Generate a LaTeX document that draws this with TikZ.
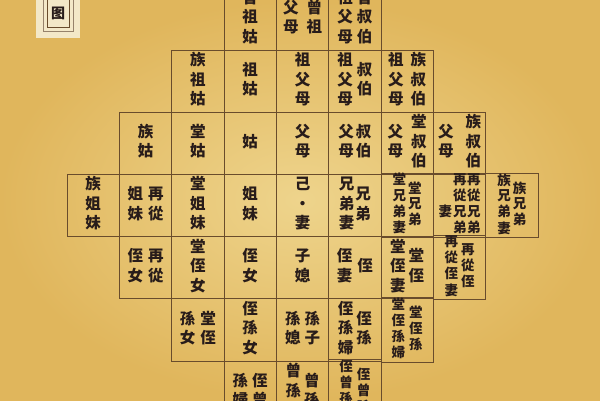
\documentclass[tikz,border=0pt]{standalone}
\usepackage{fontspec}
\usepackage{xcolor}
\newfontfamily\cjk{Noto Sans CJK TC}

\definecolor{paperin}{RGB}{238,212,140}
\definecolor{paperout}{RGB}{224,182,92}
\definecolor{paperpale}{RGB}{243,232,200}
\definecolor{gridline}{RGB}{105,76,44}
\definecolor{ink}{RGB}{40,28,26}

% one vertical line of characters, and two of them (right one read first)
\newcommand{\vcol}[1]{\begin{tabular}[c]{@{}c@{}}#1\end{tabular}}
\newcommand{\vpair}[3][3pt]{\vcol{#3}\hspace{#1}\vcol{#2}}

\tikzset{
  kincell/.style={draw=gridline, line width=0.7pt, minimum width=52.33, minimum height=62.2,
    inner sep=0pt, text=ink, font=\cjk\bfseries\fontsize{15.5}{19.5}\selectfont},
  dense/.style={font=\cjk\bfseries\fontsize{13.5}{15.5}\selectfont},
}

\begin{document}
\begin{tikzpicture}[x=1pt,y=1pt,yscale=-1,xscale=1]
\useasboundingbox (0,0) rectangle (600,400);
\shade [inner color=paperin, outer color=paperout] (0,0) rectangle (600,400);
\clip (0,0) rectangle (600,400);

%Title box
\fill [paperpale] (36,-2) rectangle (80,38);
\draw [gridline!70, line width=0.6pt] (43,-5) rectangle (73,31);
\draw [gridline, line width=0.8pt] (47,-5) rectangle (69,27);
\node [text=ink, font=\cjk\bfseries\fontsize{14}{16}\selectfont] (title) at (58,13) {图};

% Row 0
\node [kincell] (r0c3) at (250.2,18.9) {\vcol{曾\\祖\\姑}};
\node [kincell] (r0c4) at (302.5,18.9) {\vpair[8pt]{曾\\祖}{父\\母}};
\node [kincell] (r0c5) at (354.8,18.9) {\vpair[4pt]{曾\\叔\\伯}{祖\\父\\母}};
% Row 1
\node [kincell] (r1c2) at (197.8,81.1) {\vcol{族\\祖\\姑}};
\node [kincell] (r1c3) at (250.2,81.1) {\vcol{祖\\姑}};
\node [kincell] (r1c4) at (302.5,81.1) {\vcol{祖\\父\\母}};
\node [kincell] (r1c5) at (354.8,81.1) {\vpair[4pt]{叔\\伯}{祖\\父\\母}};
\node [kincell] (r1c6) at (407.2,81.1) {\vpair[7pt]{族\\叔\\伯}{祖\\父\\母}};
% Row 2
\node [kincell] (r2c1) at (145.5,143.3) {\vcol{族\\姑}};
\node [kincell] (r2c2) at (197.8,143.3) {\vcol{堂\\姑}};
\node [kincell] (r2c3) at (250.2,143.3) {\vcol{姑}};
\node [kincell] (r2c4) at (302.5,143.3) {\vcol{父\\母}};
\node [kincell] (r2c5) at (354.8,143.3) {\vpair[2pt]{叔\\伯}{父\\母}};
\node [kincell] (r2c6) at (407.2,143.3) {\vpair[8pt]{堂\\叔\\伯}{父\\母}};
\node [kincell] (r2c7) at (459.5,143.3) {\vpair[12pt]{族\\叔\\伯}{父\\母}};
% Row 3
\node [kincell] (r3c0) at (93.2,205.5) {\vcol{族\\姐\\妹}};
\node [kincell] (r3c1) at (145.5,205.5) {\vpair[5pt]{再\\從}{姐\\妹}};
\node [kincell] (r3c2) at (197.8,205.5) {\vcol{堂\\姐\\妹}};
\node [kincell] (r3c3) at (250.2,205.5) {\vcol{姐\\妹}};
\node [kincell] (r3c4) at (302.5,205.5) {\vcol{己\\·\\妻}};
\node [kincell] (r3c5) at (354.8,205.5) {\vpair[1pt]{兄\\弟}{兄\\弟\\妻}};
\node [kincell, dense] (r3c6) at (407.2,205.5) {\vpair[2pt]{堂\\兄\\弟}{堂\\兄\\弟\\妻}};
\node [kincell, dense] (r3c7) at (459.5,205.5) {\vcol{\\妻}\hspace{1pt}\vcol{再\\從\\兄\\弟}\hspace{0.5pt}\vcol{再\\從\\兄\\弟}};
\node [kincell, dense] (r3c8) at (511.8,205.5) {\vpair[2pt]{族\\兄\\弟}{族\\兄\\弟\\妻}};
% Row 4
\node [kincell] (r4c1) at (145.5,267.7) {\vpair[5pt]{再\\從}{侄\\女}};
\node [kincell] (r4c2) at (197.8,267.7) {\vcol{堂\\侄\\女}};
\node [kincell] (r4c3) at (250.2,267.7) {\vcol{侄\\女}};
\node [kincell] (r4c4) at (302.5,267.7) {\vcol{子\\媳}};
\node [kincell] (r4c5) at (354.8,267.7) {\vpair[5pt]{侄}{侄\\妻}};
\node [kincell] (r4c6) at (407.2,267.7) {\vpair[3pt]{堂\\侄}{堂\\侄\\妻}};
\node [kincell, dense] (r4c7) at (459.5,267.7) {\vpair[3pt]{再\\從\\侄}{再\\從\\侄\\妻}};
% Row 5
\node [kincell] (r5c2) at (197.8,329.9) {\vpair[5pt]{堂\\侄}{孫\\女}};
\node [kincell] (r5c3) at (250.2,329.9) {\vcol{侄\\孫\\女}};
\node [kincell] (r5c4) at (302.5,329.9) {\vpair[4pt]{孫\\子}{孫\\媳}};
\node [kincell] (r5c5) at (354.8,329.9) {\vpair[3pt]{侄\\孫}{侄\\孫\\婦}};
\node [kincell, dense] (r5c6) at (407.2,329.9) {\vpair[4pt]{堂\\侄\\孫}{堂\\侄\\孫\\婦}};
% Row 6
\node [kincell] (r6c3) at (250.2,392.1) {\raisebox{4pt}{\vpair[4pt]{侄\\曾}{孫\\婦}}};
\node [kincell] (r6c4) at (302.5,392.1) {\raisebox{6pt}{\vpair[3pt]{曾\\孫}{曾\\孫\\婦}}};
\node [kincell, dense] (r6c5) at (354.8,392.1) {\raisebox{2pt}{\vpair[4pt]{侄\\曾\\孫}{侄\\曾\\孫\\婦}}};

\end{tikzpicture}
\end{document}
